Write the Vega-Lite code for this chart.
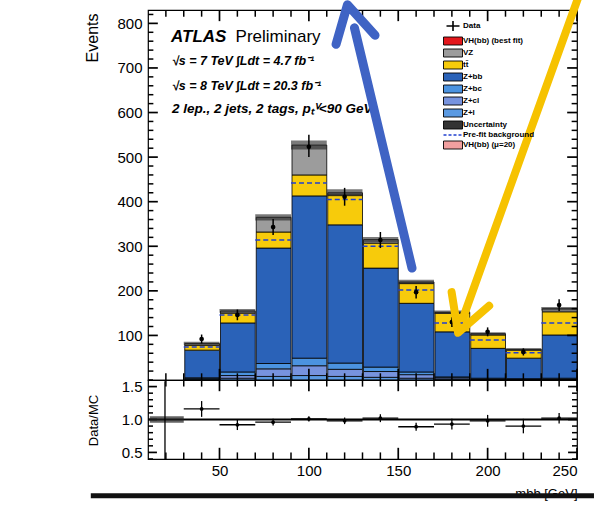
{
  "$schema": "https://vega.github.io/schema/vega-lite/v6.json",
  "autosize": {"type": "none"},
  "padding": {"left": 148, "top": 10, "right": 446, "bottom": 495},
  "background": "white",
  "bounds": "flush",
  "spacing": 0,
  "config": {
    "view": {"stroke": "black", "strokeWidth": 1.2},
    "font": "Liberation Sans",
    "rule": {"strokeCap": "butt"},
    "axis": {"labelFont": "Liberation Sans", "titleFont": "Liberation Sans", "labelColor": "black", "titleColor": "black", "ticks": false, "titleFontWeight": "normal", "domain": false, "grid": false}
  },
  "datasets": {
    "stack": [
      {"lo":30,"hi":50,"p":"Z+l","k":1,"ev":2},{"lo":30,"hi":50,"p":"Z+cl","k":2,"ev":1},{"lo":30,"hi":50,"p":"Z+bc","k":3,"ev":2},{"lo":30,"hi":50,"p":"Z+bb","k":4,"ev":62},{"lo":30,"hi":50,"p":"tt\u0304","k":5,"ev":11},{"lo":30,"hi":50,"p":"VZ","k":6,"ev":4},
      {"lo":50,"hi":70,"p":"Z+l","k":1,"ev":4},{"lo":50,"hi":70,"p":"Z+cl","k":2,"ev":6},{"lo":50,"hi":70,"p":"Z+bc","k":3,"ev":8},{"lo":50,"hi":70,"p":"Z+bb","k":4,"ev":110},{"lo":50,"hi":70,"p":"tt\u0304","k":5,"ev":22},{"lo":50,"hi":70,"p":"VZ","k":6,"ev":5},
      {"lo":70,"hi":90,"p":"Z+l","k":1,"ev":8},{"lo":70,"hi":90,"p":"Z+cl","k":2,"ev":17},{"lo":70,"hi":90,"p":"Z+bc","k":3,"ev":12},{"lo":70,"hi":90,"p":"Z+bb","k":4,"ev":259},{"lo":70,"hi":90,"p":"tt\u0304","k":5,"ev":36},{"lo":70,"hi":90,"p":"VZ","k":6,"ev":33},
      {"lo":90,"hi":110,"p":"Z+l","k":1,"ev":10},{"lo":90,"hi":110,"p":"Z+cl","k":2,"ev":22},{"lo":90,"hi":110,"p":"Z+bc","k":3,"ev":17},{"lo":90,"hi":110,"p":"Z+bb","k":4,"ev":364},{"lo":90,"hi":110,"p":"tt\u0304","k":5,"ev":47},{"lo":90,"hi":110,"p":"VZ","k":6,"ev":67},
      {"lo":110,"hi":130,"p":"Z+l","k":1,"ev":8},{"lo":110,"hi":130,"p":"Z+cl","k":2,"ev":16},{"lo":110,"hi":130,"p":"Z+bc","k":3,"ev":14},{"lo":110,"hi":130,"p":"Z+bb","k":4,"ev":310},{"lo":110,"hi":130,"p":"tt\u0304","k":5,"ev":67},{"lo":110,"hi":130,"p":"VZ","k":6,"ev":5},
      {"lo":130,"hi":150,"p":"Z+l","k":1,"ev":6},{"lo":130,"hi":150,"p":"Z+cl","k":2,"ev":13},{"lo":130,"hi":150,"p":"Z+bc","k":3,"ev":10},{"lo":130,"hi":150,"p":"Z+bb","k":4,"ev":222},{"lo":130,"hi":150,"p":"tt\u0304","k":5,"ev":56},{"lo":130,"hi":150,"p":"VZ","k":6,"ev":8},
      {"lo":150,"hi":170,"p":"Z+l","k":1,"ev":4},{"lo":150,"hi":170,"p":"Z+cl","k":2,"ev":8},{"lo":150,"hi":170,"p":"Z+bc","k":3,"ev":6},{"lo":150,"hi":170,"p":"Z+bb","k":4,"ev":154},{"lo":150,"hi":170,"p":"tt\u0304","k":5,"ev":45},{"lo":150,"hi":170,"p":"VZ","k":6,"ev":3},
      {"lo":170,"hi":190,"p":"Z+l","k":1,"ev":2},{"lo":170,"hi":190,"p":"Z+cl","k":2,"ev":3},{"lo":170,"hi":190,"p":"Z+bc","k":3,"ev":2},{"lo":170,"hi":190,"p":"Z+bb","k":4,"ev":101},{"lo":170,"hi":190,"p":"tt\u0304","k":5,"ev":42},{"lo":170,"hi":190,"p":"VZ","k":6,"ev":2},
      {"lo":190,"hi":210,"p":"Z+l","k":1,"ev":1},{"lo":190,"hi":210,"p":"Z+cl","k":2,"ev":1},{"lo":190,"hi":210,"p":"Z+bc","k":3,"ev":2},{"lo":190,"hi":210,"p":"Z+bb","k":4,"ev":67},{"lo":190,"hi":210,"p":"tt\u0304","k":5,"ev":30},{"lo":190,"hi":210,"p":"VZ","k":6,"ev":3},
      {"lo":210,"hi":230,"p":"Z+l","k":1,"ev":1},{"lo":210,"hi":230,"p":"Z+cl","k":2,"ev":1},{"lo":210,"hi":230,"p":"Z+bc","k":3,"ev":1},{"lo":210,"hi":230,"p":"Z+bb","k":4,"ev":46},{"lo":210,"hi":230,"p":"tt\u0304","k":5,"ev":18},{"lo":210,"hi":230,"p":"VZ","k":6,"ev":2},
      {"lo":230,"hi":250,"p":"Z+l","k":1,"ev":1},{"lo":230,"hi":250,"p":"Z+cl","k":2,"ev":1},{"lo":230,"hi":250,"p":"Z+bc","k":3,"ev":2},{"lo":230,"hi":250,"p":"Z+bb","k":4,"ev":97},{"lo":230,"hi":250,"p":"tt\u0304","k":5,"ev":52},{"lo":230,"hi":250,"p":"VZ","k":6,"ev":7}
    ],
    "bins": [
      {"lo":30,"hi":50,"mid":40,"ulo":79,"uhi":86,"pre":74,"d":92,"dlo":82,"dhi":102,"r":1.16,"rlo":1.04,"rhi":1.28},
      {"lo":50,"hi":70,"mid":60,"ulo":151,"uhi":159,"pre":146,"d":146,"dlo":134,"dhi":158,"r":0.92,"rlo":0.84,"rhi":1.0},
      {"lo":70,"hi":90,"mid":80,"ulo":358,"uhi":372,"pre":314,"d":343,"dlo":325,"dhi":361,"r":0.96,"rlo":0.91,"rhi":1.01},
      {"lo":90,"hi":110,"mid":100,"ulo":517,"uhi":537,"pre":442,"d":523,"dlo":500,"dhi":550,"r":1.01,"rlo":0.97,"rhi":1.05},
      {"lo":110,"hi":130,"mid":120,"ulo":412,"uhi":428,"pre":405,"d":411,"dlo":391,"dhi":431,"r":0.98,"rlo":0.93,"rhi":1.03},
      {"lo":130,"hi":150,"mid":140,"ulo":309,"uhi":321,"pre":300,"d":314,"dlo":296,"dhi":332,"r":1.02,"rlo":0.96,"rhi":1.08},
      {"lo":150,"hi":170,"mid":160,"ulo":215,"uhi":225,"pre":202,"d":197,"dlo":183,"dhi":211,"r":0.89,"rlo":0.83,"rhi":0.95},
      {"lo":170,"hi":190,"mid":180,"ulo":148,"uhi":156,"pre":128,"d":130,"dlo":119,"dhi":141,"r":0.93,"rlo":0.85,"rhi":1.01},
      {"lo":190,"hi":210,"mid":200,"ulo":101,"uhi":107,"pre":90,"d":108,"dlo":98,"dhi":118,"r":0.98,"rlo":0.89,"rhi":1.07},
      {"lo":210,"hi":230,"mid":220,"ulo":67,"uhi":71,"pre":61,"d":63,"dlo":55,"dhi":71,"r":0.9,"rlo":0.79,"rhi":1.01},
      {"lo":230,"hi":250,"mid":240,"ulo":156,"uhi":164,"pre":128,"d":168,"dlo":155,"dhi":181,"r":1.02,"rlo":0.94,"rhi":1.1}
    ],
    "xmaj": [{"v":50},{"v":100},{"v":150},{"v":200},{"v":250}],
    "xmin": [{"v":20},{"v":30},{"v":40},{"v":60},{"v":70},{"v":80},{"v":90},{"v":110},{"v":120},{"v":130},{"v":140},{"v":160},{"v":170},{"v":180},{"v":190},{"v":210},{"v":220},{"v":230},{"v":240}],
    "ymaj": [{"v":100},{"v":200},{"v":300},{"v":400},{"v":500},{"v":600},{"v":700},{"v":800}],
    "ymin": [{"v":20},{"v":40},{"v":60},{"v":80},{"v":120},{"v":140},{"v":160},{"v":180},{"v":220},{"v":240},{"v":260},{"v":280},{"v":320},{"v":340},{"v":360},{"v":380},{"v":420},{"v":440},{"v":460},{"v":480},{"v":520},{"v":540},{"v":560},{"v":580},{"v":620},{"v":640},{"v":660},{"v":680},{"v":720},{"v":740},{"v":760},{"v":780},{"v":820}],
    "rmaj": [{"v":0.5},{"v":1},{"v":1.5}],
    "rmin": [{"v":0.4},{"v":0.6},{"v":0.7},{"v":0.8},{"v":0.9},{"v":1.1},{"v":1.2},{"v":1.3},{"v":1.4},{"v":1.6}]
  },
  "vconcat": [
    {
      "width": 429,
      "height": 370,
      "layer": [
        {
          "data": {"name": "stack"},
          "mark": {"type": "bar", "stroke": "black", "strokeWidth": 0.8, "opacity": 1},
          "encoding": {
            "x": {"field": "lo", "type": "quantitative", "bin": "binned", "scale": {"domain": [10, 250], "nice": false}, "axis": null},
            "x2": {"field": "hi"},
            "y": {"field": "ev", "type": "quantitative", "stack": "zero", "scale": {"domain": [0, 830], "nice": false},
                  "axis": {"orient": "left", "values": [100, 200, 300, 400, 500, 600, 700, 800], "labelPadding": 6, "labelFontSize": 15,
                           "title": "Events", "titleFontSize": 16, "titleAngle": -90, "titleX": -56, "titleY": 3, "titleAlign": "right", "titleBaseline": "middle"}},
            "order": {"field": "k", "type": "quantitative"},
            "color": {"field": "p", "type": "nominal",
              "scale": {"domain": ["Data", "VH(bb) (best fit)", "VZ", "tt\u0304", "Z+bb", "Z+bc", "Z+cl", "Z+l", "Uncertainty", "Pre-fit background", "VH(bb) (\u03bc=20)"],
                        "range": ["#000000", "#e3171c", "#9c9c9c", "#f7cb0b", "#2a62b8", "#4b93e0", "#7793de", "#5b9ae2", "#333333", "#2040d0", "#f2a0a0"]},
              "legend": {"title": null, "orient": "none", "legendX": 301, "legendY": 12, "padding": 0, "symbolSize": 100,
                         "symbolStrokeColor": "black", "symbolStrokeWidth": 0.8, "symbolOpacity": 1, "labelFont": "Liberation Sans", "labelFontSize": 8,
                         "labelFontWeight": "bold", "labelColor": "black", "rowPadding": 0, "labelOffset": 6, "symbolOffset": 0,
                         "encode": {"symbols": {"update": {
                            "shape": {"signal": "datum.value === 'Data' ? 'M-1.3,0H1.3M0,-1V1' : datum.value === 'Pre-fit background' ? 'M-1.9,0H1.9' : 'M-1.9,-0.8H1.9V0.8H-1.9Z'"},
                            "stroke": {"signal": "datum.value === 'Pre-fit background' ? '#2040d0' : 'black'"},
                            "strokeDash": {"signal": "datum.value === 'Pre-fit background' ? [3, 2] : []"},
                            "strokeWidth": {"signal": "datum.value === 'Data' || datum.value === 'Pre-fit background' ? 1.6 : 0.9"},
                            "opacity": {"value": 1}
                         }}}}
            }
          }
        },
        {
          "data": {"name": "bins"},
          "mark": {"type": "rect", "fill": "#222222", "fillOpacity": 0.6},
          "encoding": {
            "x": {"field": "lo", "type": "quantitative", "scale": {"domain": [10, 250], "nice": false}, "axis": null},
            "x2": {"field": "hi"},
            "y": {"field": "ulo", "type": "quantitative", "scale": {"domain": [0, 830], "nice": false}, "axis": null},
            "y2": {"field": "uhi"}
          }
        },
        {
          "data": {"name": "bins"},
          "mark": {"type": "rule", "stroke": "#2040d0", "strokeDash": [5, 3], "strokeWidth": 1.5},
          "encoding": {
            "x": {"field": "lo", "type": "quantitative", "scale": {"domain": [10, 250], "nice": false}, "axis": null},
            "x2": {"field": "hi"},
            "y": {"field": "pre", "type": "quantitative", "scale": {"domain": [0, 830], "nice": false}, "axis": null}
          }
        },
        {
          "data": {"name": "bins"},
          "mark": {"type": "rule", "stroke": "black", "strokeWidth": 1.5},
          "encoding": {
            "x": {"field": "mid", "type": "quantitative", "scale": {"domain": [10, 250], "nice": false}, "axis": null},
            "y": {"field": "dlo", "type": "quantitative", "scale": {"domain": [0, 830], "nice": false}, "axis": null},
            "y2": {"field": "dhi"}
          }
        },
        {
          "data": {"name": "bins"},
          "mark": {"type": "point", "filled": true, "color": "black", "size": 22, "opacity": 1},
          "encoding": {
            "x": {"field": "mid", "type": "quantitative", "scale": {"domain": [10, 250], "nice": false}, "axis": null},
            "y": {"field": "d", "type": "quantitative", "scale": {"domain": [0, 830], "nice": false}, "axis": null}
          }
        },
        {
          "data": {"name": "ymaj"},
          "mark": {"type": "rule", "stroke": "black", "strokeWidth": 1.7},
          "encoding": {
            "x": {"datum": 10, "type": "quantitative", "scale": {"domain": [10, 250], "nice": false}, "axis": null},
            "x2": {"datum": 15.5},
            "y": {"field": "v", "type": "quantitative", "scale": {"domain": [0, 830], "nice": false}, "axis": null}
          }
        },
        {
          "data": {"name": "ymaj"},
          "mark": {"type": "rule", "stroke": "black", "strokeWidth": 1.7},
          "encoding": {
            "x": {"datum": 244.5, "type": "quantitative", "scale": {"domain": [10, 250], "nice": false}, "axis": null},
            "x2": {"datum": 250},
            "y": {"field": "v", "type": "quantitative", "scale": {"domain": [0, 830], "nice": false}, "axis": null}
          }
        },
        {
          "data": {"name": "ymin"},
          "mark": {"type": "rule", "stroke": "black", "strokeWidth": 1.5},
          "encoding": {
            "x": {"datum": 10, "type": "quantitative", "scale": {"domain": [10, 250], "nice": false}, "axis": null},
            "x2": {"datum": 13},
            "y": {"field": "v", "type": "quantitative", "scale": {"domain": [0, 830], "nice": false}, "axis": null}
          }
        },
        {
          "data": {"name": "ymin"},
          "mark": {"type": "rule", "stroke": "black", "strokeWidth": 1.5},
          "encoding": {
            "x": {"datum": 247, "type": "quantitative", "scale": {"domain": [10, 250], "nice": false}, "axis": null},
            "x2": {"datum": 250},
            "y": {"field": "v", "type": "quantitative", "scale": {"domain": [0, 830], "nice": false}, "axis": null}
          }
        },
        {
          "data": {"name": "xmaj"},
          "mark": {"type": "rule", "stroke": "black", "strokeWidth": 1.7},
          "encoding": {
            "x": {"field": "v", "type": "quantitative", "scale": {"domain": [10, 250], "nice": false}, "axis": null},
            "y": {"datum": 0, "type": "quantitative", "scale": {"domain": [0, 830], "nice": false}, "axis": null},
            "y2": {"datum": 25}
          }
        },
        {
          "data": {"name": "xmaj"},
          "mark": {"type": "rule", "stroke": "black", "strokeWidth": 1.7},
          "encoding": {
            "x": {"field": "v", "type": "quantitative", "scale": {"domain": [10, 250], "nice": false}, "axis": null},
            "y": {"datum": 805, "type": "quantitative", "scale": {"domain": [0, 830], "nice": false}, "axis": null},
            "y2": {"datum": 830}
          }
        },
        {
          "data": {"name": "xmin"},
          "mark": {"type": "rule", "stroke": "black", "strokeWidth": 1.5},
          "encoding": {
            "x": {"field": "v", "type": "quantitative", "scale": {"domain": [10, 250], "nice": false}, "axis": null},
            "y": {"datum": 0, "type": "quantitative", "scale": {"domain": [0, 830], "nice": false}, "axis": null},
            "y2": {"datum": 15}
          }
        },
        {
          "data": {"name": "xmin"},
          "mark": {"type": "rule", "stroke": "black", "strokeWidth": 1.5},
          "encoding": {
            "x": {"field": "v", "type": "quantitative", "scale": {"domain": [10, 250], "nice": false}, "axis": null},
            "y": {"datum": 815, "type": "quantitative", "scale": {"domain": [0, 830], "nice": false}, "axis": null},
            "y2": {"datum": 830}
          }
        },
        {
          "data": {"values": [{"x": 22.9, "y": 758, "t": "ATLAS"}]},
          "mark": {"type": "text", "align": "left", "baseline": "alphabetic", "font": "Liberation Sans", "fontSize": 17, "fontWeight": "bold", "fontStyle": "italic", "color": "black"},
          "encoding": {
            "x": {"field": "x", "type": "quantitative", "scale": {"domain": [10, 250], "nice": false}, "axis": null},
            "y": {"field": "y", "type": "quantitative", "scale": {"domain": [0, 830], "nice": false}, "axis": null},
            "text": {"field": "t"}
          }
        },
        {
          "data": {"values": [{"x": 59, "y": 758, "t": "Preliminary"}]},
          "mark": {"type": "text", "align": "left", "baseline": "alphabetic", "font": "Liberation Sans", "fontSize": 17, "color": "black"},
          "encoding": {
            "x": {"field": "x", "type": "quantitative", "scale": {"domain": [10, 250], "nice": false}, "axis": null},
            "y": {"field": "y", "type": "quantitative", "scale": {"domain": [0, 830], "nice": false}, "axis": null},
            "text": {"field": "t"}
          }
        },
        {
          "data": {"values": [
            {"x": 23.4, "y": 707, "t": "\u221as = 7 TeV \u222bLdt = 4.7 fb\u207b\u00b9"},
            {"x": 23.4, "y": 650, "t": "\u221as = 8 TeV \u222bLdt = 20.3 fb\u207b\u00b9"}
          ]},
          "mark": {"type": "text", "align": "left", "baseline": "alphabetic", "font": "Liberation Sans", "fontSize": 12.5, "fontWeight": "bold", "fontStyle": "italic", "color": "black"},
          "encoding": {
            "x": {"field": "x", "type": "quantitative", "scale": {"domain": [10, 250], "nice": false}, "axis": null},
            "y": {"field": "y", "type": "quantitative", "scale": {"domain": [0, 830], "nice": false}, "axis": null},
            "text": {"field": "t"}
          }
        },
        {
          "data": {"values": [
            {"x": 23.4, "y": 599, "t": "2 lep., 2 jets, 2 tags, p\u209c\u2c7d<90 GeV"}
          ]},
          "mark": {"type": "text", "align": "left", "baseline": "alphabetic", "font": "Liberation Sans", "fontSize": 13.5, "fontWeight": "bold", "fontStyle": "italic", "color": "black"},
          "encoding": {
            "x": {"field": "x", "type": "quantitative", "scale": {"domain": [10, 250], "nice": false}, "axis": null},
            "y": {"field": "y", "type": "quantitative", "scale": {"domain": [0, 830], "nice": false}, "axis": null},
            "text": {"field": "t"}
          }
        },
        {
          "data": {"values": [{"x": 157.7, "y": 251}, {"x": 125.5, "y": 790}]},
          "mark": {"type": "line", "stroke": "#3f63c4", "strokeWidth": 9, "strokeCap": "round"},
          "encoding": {
            "x": {"field": "x", "type": "quantitative", "scale": {"domain": [10, 250], "nice": false}, "axis": null},
            "y": {"field": "y", "type": "quantitative", "scale": {"domain": [0, 830], "nice": false}, "axis": null}
          }
        },
        {
          "data": {"values": [{"x": 124.1, "y": 798}]},
          "mark": {"type": "point", "shape": "M-1,0.8L0,-1L1,0.8", "angle": -13, "size": 1600, "filled": false, "stroke": "#3f63c4", "strokeWidth": 9, "strokeJoin": "round", "strokeCap": "round", "opacity": 1},
          "encoding": {
            "x": {"field": "x", "type": "quantitative", "scale": {"domain": [10, 250], "nice": false}, "axis": null},
            "y": {"field": "y", "type": "quantitative", "scale": {"domain": [0, 830], "nice": false}, "axis": null}
          }
        },
        {
          "data": {"values": [{"x": 250.6, "y": 857}, {"x": 186.2, "y": 139}]},
          "mark": {"type": "line", "stroke": "#f6c200", "strokeWidth": 8, "strokeCap": "round"},
          "encoding": {
            "x": {"field": "x", "type": "quantitative", "scale": {"domain": [10, 250], "nice": false}, "axis": null},
            "y": {"field": "y", "type": "quantitative", "scale": {"domain": [0, 830], "nice": false}, "axis": null}
          }
        },
        {
          "data": {"values": [{"x": 187.3, "y": 148}]},
          "mark": {"type": "point", "shape": "M-1,-0.8L0,1L1,-0.8", "angle": 20, "size": 1600, "filled": false, "stroke": "#f6c200", "strokeWidth": 8, "strokeJoin": "round", "strokeCap": "round", "opacity": 1},
          "encoding": {
            "x": {"field": "x", "type": "quantitative", "scale": {"domain": [10, 250], "nice": false}, "axis": null},
            "y": {"field": "y", "type": "quantitative", "scale": {"domain": [0, 830], "nice": false}, "axis": null}
          }
        }
      ],
      "resolve": {"axis": {"x": "independent", "y": "independent"}}
    },
    {
      "width": 429,
      "height": 79,
      "layer": [
        {
          "data": {"values": [{"a": 10, "b": 250, "v": 1}]},
          "mark": {"type": "rule", "stroke": "black", "strokeWidth": 1.8},
          "encoding": {
            "x": {"field": "a", "type": "quantitative", "scale": {"domain": [10, 250], "nice": false},
                  "axis": {"orient": "bottom", "values": [50, 100, 150, 200, 250], "labelPadding": 4, "labelFontSize": 15,
                           "title": "mbb [GeV]", "titleFontSize": 13, "titleX": 429, "titleY": 34, "titleAlign": "right", "titleBaseline": "middle"}},
            "x2": {"field": "b"},
            "y": {"field": "v", "type": "quantitative", "scale": {"domain": [0.4, 1.6], "nice": false, "zero": false},
                  "axis": {"orient": "left", "values": [0.5, 1, 1.5], "labelPadding": 6, "labelFontSize": 15,
                           "title": "Data/MC", "titleFontSize": 13, "titleAngle": -90, "titleX": -55, "titleY": 40, "titleAlign": "center", "titleBaseline": "middle"}}
          }
        },
        {
          "data": {"name": "bins"},
          "mark": {"type": "rule", "stroke": "black", "strokeWidth": 1.3},
          "encoding": {
            "x": {"field": "lo", "type": "quantitative", "scale": {"domain": [10, 250], "nice": false}, "axis": null},
            "x2": {"field": "hi"},
            "y": {"field": "r", "type": "quantitative", "scale": {"domain": [0.4, 1.6], "nice": false, "zero": false}, "axis": null}
          }
        },
        {
          "data": {"name": "bins"},
          "mark": {"type": "rule", "stroke": "black", "strokeWidth": 1.3},
          "encoding": {
            "x": {"field": "mid", "type": "quantitative", "scale": {"domain": [10, 250], "nice": false}, "axis": null},
            "y": {"field": "rlo", "type": "quantitative", "scale": {"domain": [0.4, 1.6], "nice": false, "zero": false}, "axis": null},
            "y2": {"field": "rhi"}
          }
        },
        {
          "data": {"name": "bins"},
          "mark": {"type": "point", "filled": true, "color": "black", "size": 14, "opacity": 1},
          "encoding": {
            "x": {"field": "mid", "type": "quantitative", "scale": {"domain": [10, 250], "nice": false}, "axis": null},
            "y": {"field": "r", "type": "quantitative", "scale": {"domain": [0.4, 1.6], "nice": false, "zero": false}, "axis": null}
          }
        },
        {
          "data": {"name": "rmaj"},
          "mark": {"type": "rule", "stroke": "black", "strokeWidth": 1.7},
          "encoding": {
            "x": {"datum": 10, "type": "quantitative", "scale": {"domain": [10, 250], "nice": false}, "axis": null},
            "x2": {"datum": 15},
            "y": {"field": "v", "type": "quantitative", "scale": {"domain": [0.4, 1.6], "nice": false, "zero": false}, "axis": null}
          }
        },
        {
          "data": {"name": "rmaj"},
          "mark": {"type": "rule", "stroke": "black", "strokeWidth": 1.7},
          "encoding": {
            "x": {"datum": 245, "type": "quantitative", "scale": {"domain": [10, 250], "nice": false}, "axis": null},
            "x2": {"datum": 250},
            "y": {"field": "v", "type": "quantitative", "scale": {"domain": [0.4, 1.6], "nice": false, "zero": false}, "axis": null}
          }
        },
        {
          "data": {"name": "rmin"},
          "mark": {"type": "rule", "stroke": "black", "strokeWidth": 1.5},
          "encoding": {
            "x": {"datum": 10, "type": "quantitative", "scale": {"domain": [10, 250], "nice": false}, "axis": null},
            "x2": {"datum": 12.8},
            "y": {"field": "v", "type": "quantitative", "scale": {"domain": [0.4, 1.6], "nice": false, "zero": false}, "axis": null}
          }
        },
        {
          "data": {"name": "rmin"},
          "mark": {"type": "rule", "stroke": "black", "strokeWidth": 1.5},
          "encoding": {
            "x": {"datum": 247.2, "type": "quantitative", "scale": {"domain": [10, 250], "nice": false}, "axis": null},
            "x2": {"datum": 250},
            "y": {"field": "v", "type": "quantitative", "scale": {"domain": [0.4, 1.6], "nice": false, "zero": false}, "axis": null}
          }
        },
        {
          "data": {"name": "xmaj"},
          "mark": {"type": "rule", "stroke": "black", "strokeWidth": 1.7},
          "encoding": {
            "x": {"field": "v", "type": "quantitative", "scale": {"domain": [10, 250], "nice": false}, "axis": null},
            "y": {"datum": 0.4, "type": "quantitative", "scale": {"domain": [0.4, 1.6], "nice": false, "zero": false}, "axis": null},
            "y2": {"datum": 0.57}
          }
        },
        {
          "data": {"name": "xmaj"},
          "mark": {"type": "rule", "stroke": "black", "strokeWidth": 1.7},
          "encoding": {
            "x": {"field": "v", "type": "quantitative", "scale": {"domain": [10, 250], "nice": false}, "axis": null},
            "y": {"datum": 1.43, "type": "quantitative", "scale": {"domain": [0.4, 1.6], "nice": false, "zero": false}, "axis": null},
            "y2": {"datum": 1.6}
          }
        },
        {
          "data": {"name": "xmin"},
          "mark": {"type": "rule", "stroke": "black", "strokeWidth": 1.5},
          "encoding": {
            "x": {"field": "v", "type": "quantitative", "scale": {"domain": [10, 250], "nice": false}, "axis": null},
            "y": {"datum": 0.4, "type": "quantitative", "scale": {"domain": [0.4, 1.6], "nice": false, "zero": false}, "axis": null},
            "y2": {"datum": 0.5}
          }
        },
        {
          "data": {"name": "xmin"},
          "mark": {"type": "rule", "stroke": "black", "strokeWidth": 1.5},
          "encoding": {
            "x": {"field": "v", "type": "quantitative", "scale": {"domain": [10, 250], "nice": false}, "axis": null},
            "y": {"datum": 1.5, "type": "quantitative", "scale": {"domain": [0.4, 1.6], "nice": false, "zero": false}, "axis": null},
            "y2": {"datum": 1.6}
          }
        },
        {
          "data": {"values": [{"a": 11, "b": 30, "lo": 0.95, "hi": 1.05}]},
          "mark": {"type": "rect", "fill": "#222222", "fillOpacity": 0.7},
          "encoding": {
            "x": {"field": "a", "type": "quantitative", "scale": {"domain": [10, 250], "nice": false}, "axis": null},
            "x2": {"field": "b"},
            "y": {"field": "lo", "type": "quantitative", "scale": {"domain": [0.4, 1.6], "nice": false, "zero": false}, "axis": null},
            "y2": {"field": "hi"}
          }
        },
        {
          "data": {"values": [{"a": 19.5, "lo": 0.4, "hi": 1.58}]},
          "mark": {"type": "rule", "stroke": "black", "strokeWidth": 1.3},
          "encoding": {
            "x": {"field": "a", "type": "quantitative", "scale": {"domain": [10, 250], "nice": false}, "axis": null},
            "y": {"field": "lo", "type": "quantitative", "scale": {"domain": [0.4, 1.6], "nice": false, "zero": false}, "axis": null},
            "y2": {"field": "hi"}
          }
        },
        {
          "data": {"values": [{"a": -22, "b": 259.5, "v": -0.16}]},
          "mark": {"type": "rule", "stroke": "#111111", "strokeWidth": 5},
          "encoding": {
            "x": {"field": "a", "type": "quantitative", "scale": {"domain": [10, 250], "nice": false}, "axis": null},
            "x2": {"field": "b"},
            "y": {"field": "v", "type": "quantitative", "scale": {"domain": [0.4, 1.6], "nice": false, "zero": false}, "axis": null}
          }
        }
      ],
      "resolve": {"axis": {"x": "independent", "y": "independent"}}
    }
  ]
}
